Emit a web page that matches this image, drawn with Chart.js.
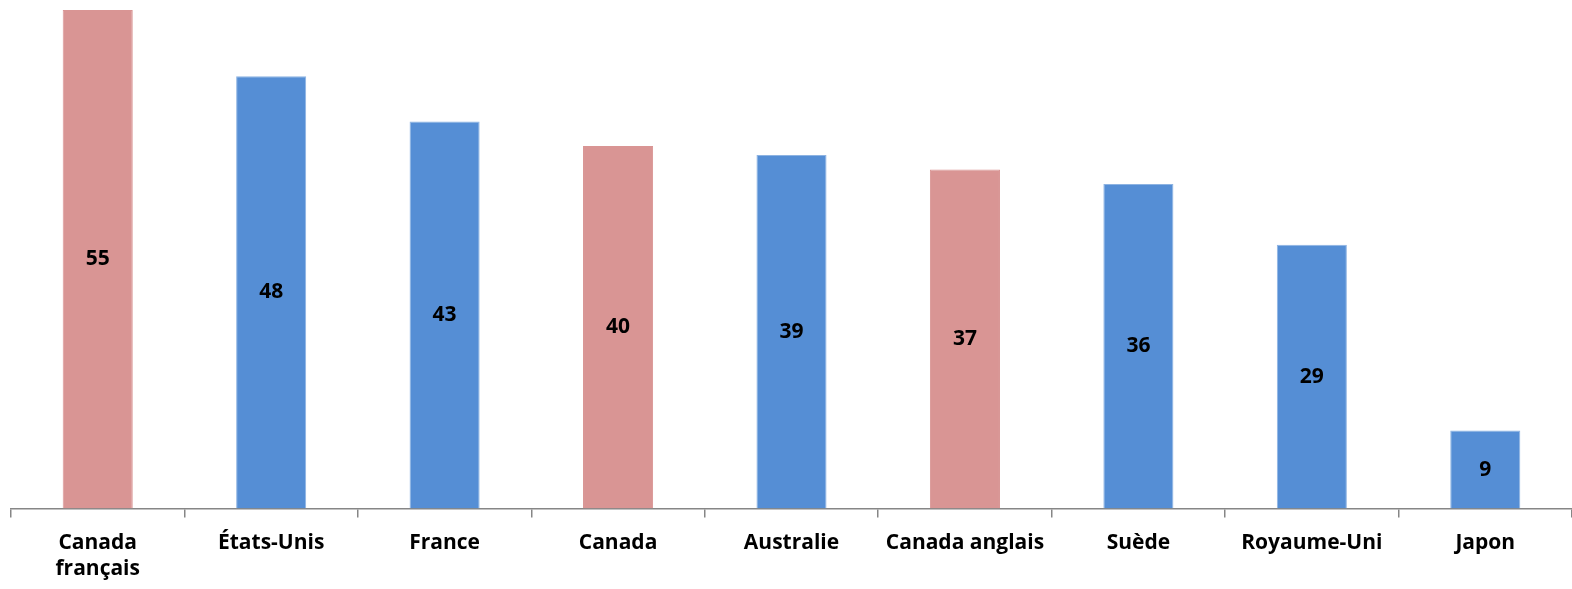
<!DOCTYPE html>
<html>
<head>
<meta charset="utf-8">
<script src="https://cdn.jsdelivr.net/npm/chart.js@4"></script>
<style>
  html, body { margin: 0; padding: 0; background: #fff; }
  #wrap { width: 1572px; height: 589px; }
</style>
</head>
<body>
<div id="wrap"><canvas id="chart"></canvas></div>
<script>
const categories = [['Canada', 'français'], 'États-Unis', 'France', 'Canada', 'Australie', 'Canada anglais', 'Suède', 'Royaume-Uni', 'Japon'];
const values = [55, 47.7, 42.7, 40, 39, 37.4, 35.8, 29.1, 8.6];
const barLabels = ['55', '48', '43', '40', '39', '37', '36', '29', '9'];
const isCanada = [true, false, false, true, false, true, false, false, false];

const RED = '#D99594';
const BLUE = '#558ED5';

const FONT_FAMILY = '"Open Sans", "Liberation Sans", sans-serif';
const labelFont = 'bold 21px ' + FONT_FAMILY;

const barValueLabels = {
  id: 'barValueLabels',
  afterDatasetsDraw(chart) {
    const ctx = chart.ctx;
    const meta = chart.getDatasetMeta(0);
    ctx.save();
    ctx.font = labelFont;
    ctx.fillStyle = '#000';
    ctx.textAlign = 'center';
    ctx.textBaseline = 'middle';
    meta.data.forEach((bar, i) => {
      ctx.fillText(barLabels[i], bar.x, (bar.y + bar.base) / 2);
    });
    ctx.restore();
  }
};

const ctx = document.getElementById('chart').getContext('2d');
new Chart(ctx, {
  type: 'bar',
  data: {
    labels: categories,
    datasets: [{
      data: values,
      backgroundColor: isCanada.map(c => c ? RED : BLUE),
      borderColor: isCanada.map(c => c ? '#D99594' : '#8DB3E2'),
      borderWidth: 1,
      barPercentage: 0.404,
      categoryPercentage: 1
    }]
  },
  options: {
    responsive: true,
    maintainAspectRatio: false,
    animation: false,
    layout: { padding: { left: 11, right: 0, top: 10, bottom: -5 } },
    plugins: {
      legend: { display: false },
      tooltip: { enabled: false }
    },
    scales: {
      x: {
        offset: true,
        grid: {
          offset: true,
          drawOnChartArea: false,
          drawTicks: true,
          tickLength: 9,
          color: '#868686',
          lineWidth: 1.5
        },
        border: { display: true, color: '#868686', width: 1.5 },
        ticks: {
          color: '#000',
          font: { family: FONT_FAMILY, size: 21, weight: 'bold', lineHeight: 1.25 },
          padding: 12,
          maxRotation: 0,
          autoSkip: false
        }
      },
      y: {
        display: false,
        min: 0,
        max: 55
      }
    }
  },
  plugins: [barValueLabels]
});
</script>
</body>
</html>
